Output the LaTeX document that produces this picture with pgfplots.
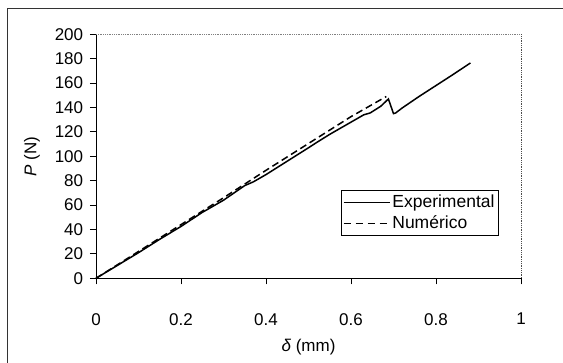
\documentclass[border=0pt]{standalone}
\usepackage{fontspec}
\setmainfont{Liberation Sans}
\usepackage{pgfplots}
\pgfplotsset{compat=1.18}
\begin{document}
\fontsize{17pt}{20pt}\selectfont
\begin{tikzpicture}[x=1pt,y=1pt]
\useasboundingbox (-96,-84.7) rectangle (467,278.3);
\draw[line width=1pt, black!80] (-88,-84.7) -- (-88,269.3) -- (467,269.3);
\begin{axis}[
  at={(0,0)}, anchor=south west,
  scale only axis, width=425pt, height=244pt,
  xmin=0, xmax=1, ymin=0, ymax=200,
  xtick={0,0.2,0.4,0.6,0.8,1},
  ytick={0,20,...,200},
  axis lines*=left,
  axis line style={black, line width=0.9pt, -},
  clip=false,
  tick align=outside,
  major tick length=6pt,
  tick style={black, line width=0.8pt},
  /pgf/number format/assume math mode=true,
  xticklabel style={font=\fontsize{17pt}{20pt}\selectfont, yshift=-23pt},
  yticklabel style={font=\fontsize{17pt}{20pt}\selectfont, xshift=-1pt},
  xlabel={\textit{δ} (mm)},
  ylabel={\textit{P} (N)},
  x label style={at={(rel axis cs:0.5,-0.281)}, anchor=center, font=\fontsize{17pt}{20pt}\selectfont},
  y label style={at={(rel axis cs:-0.1506,0.5)}, anchor=center, font=\fontsize{17pt}{20pt}\selectfont},
  legend style={at={(rel axis cs:0.948,0.361)}, anchor=north east, draw=black, line width=0.8pt,
    font=\fontsize{17.5pt}{20pt}\selectfont, inner xsep=2pt, inner ysep=2pt, row sep=2pt,
    /tikz/every even column/.append style={column sep=1pt}},
  legend cell align=left,
]
\addplot[black, line width=1.5pt,
  legend image code/.code={\draw[black, line width=1.4pt] (0pt,0pt) -- (46pt,0pt);}] coordinates {
(0,0) (0.05,10.5) (0.1,21) (0.15,32) (0.2,42.5) (0.25,54) (0.3,64) (0.35,76) (0.37,79)
(0.4,85) (0.45,96) (0.5,107) (0.52,111.5) (0.55,118) (0.6,128) (0.63,134) (0.645,135.5)
(0.67,141) (0.688,147) (0.70,135) (0.705,135.5) (0.72,139.5) (0.76,149) (0.8,158)
(0.84,167) (0.881,176.5)
};
\addlegendentry{Experimental}
\addplot[black, line width=1.5pt, dash pattern=on 7pt off 4pt,
  legend image code/.code={\draw[black, line width=1.4pt, dash pattern=on 7pt off 5pt] (0pt,0pt) -- (46pt,0pt);}] coordinates {
(0,0) (0.1,22) (0.2,44) (0.3,66) (0.4,88.5) (0.5,110.5) (0.6,132.5) (0.683,149)
};
\addlegendentry{Numérico}
\draw[gray, line width=0.8pt, densely dotted] (rel axis cs:0,1) -- (rel axis cs:1,1);
\draw[black!70, line width=0.8pt, densely dotted] (rel axis cs:1,1) -- (rel axis cs:1,0);
\end{axis}
\end{tikzpicture}
\end{document}
